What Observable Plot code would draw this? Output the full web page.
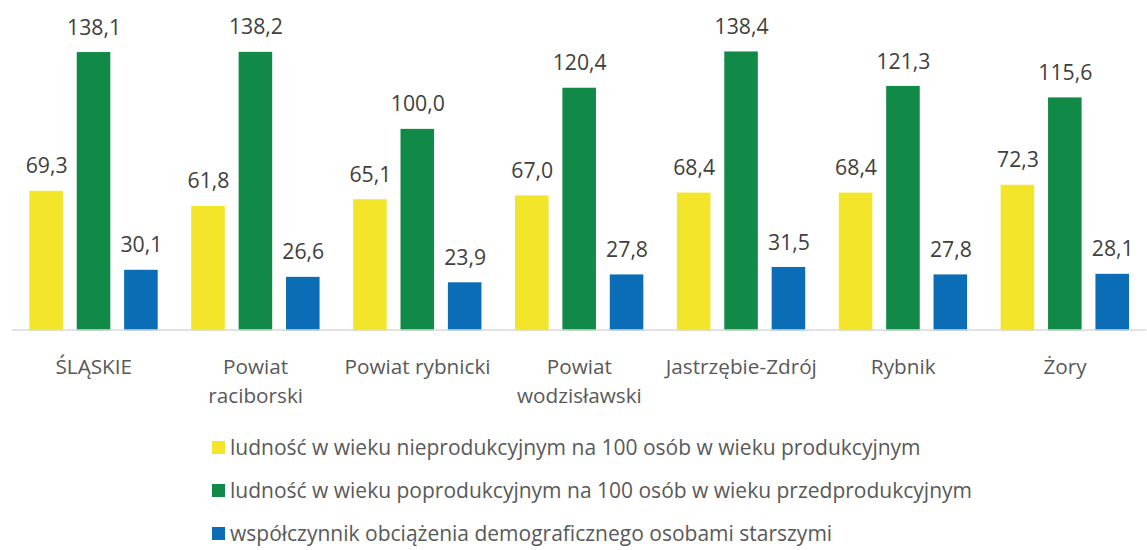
<!DOCTYPE html>
<html>
<head>
<meta charset="utf-8">
<script src="https://cdn.jsdelivr.net/npm/d3@7"></script>
<script src="https://cdn.jsdelivr.net/npm/@observablehq/plot@0.6"></script>
<style>
  body { margin: 0; background: #fff; overflow: hidden; width: 1147px; height: 550px; position: relative; font-family: "Open Sans", sans-serif; }
  #chart { position: absolute; left: 0; top: 0; }
  #legend { position: absolute; left: 212px; top: 426px; font-size: 21px; color: #595959; }
  .row { height: 43px; line-height: 43px; display: flex; align-items: center; white-space: nowrap; }
  .sw { width: 13px; height: 13px; margin-right: 5px; flex: none; }
</style>
</head>
<body>
<div id="chart"></div>
<div id="legend"></div>
<script>
const categories = ["ŚLĄSKIE", "Powiat raciborski", "Powiat rybnicki", "Powiat wodzisławski", "Jastrzębie-Zdrój", "Rybnik", "Żory"];
const categoryLabels = ["ŚLĄSKIE", "Powiat\nraciborski", "Powiat rybnicki", "Powiat\nwodzisławski", "Jastrzębie-Zdrój", "Rybnik", "Żory"];
const seriesNames = [
  "ludność w wieku nieprodukcyjnym na 100 osób w wieku produkcyjnym",
  "ludność w wieku poprodukcyjnym na 100 osób w wieku przedprodukcyjnym",
  "współczynnik obciążenia demograficznego osobami starszymi"
];
const nieprodukcyjny = [69.3, 61.8, 65.1, 67.0, 68.4, 68.4, 72.3];
const poprodukcyjny = [138.1, 138.2, 100.0, 120.4, 138.4, 121.3, 115.6];
const obciazenie = [30.1, 26.6, 23.9, 27.8, 31.5, 27.8, 28.1];
const colors = ["#f3e52a", "#128a47", "#0b6db5"];

const seriesValues = [nieprodukcyjny, poprodukcyjny, obciazenie];
const data = categories.flatMap((c, i) => seriesNames.map((s, j) => ({category: c, series: s, value: seriesValues[j][i]})));
const labelOf = Object.fromEntries(categories.map((c, i) => [c, categoryLabels[i]]));
const fmt = v => d3.format(".1f")(v).replace(".", ",");

const H = 420, base = 334.8;
const chart = Plot.plot({
  width: 1162, height: H,
  marginLeft: 10.25, marginRight: 0, marginTop: 8, marginBottom: H - base,
  style: {fontFamily: "'Open Sans', sans-serif", background: "transparent"},
  fx: {domain: categories, paddingInner: 0.2036, paddingOuter: 0.1018, axis: null, label: null},
  x: {domain: seriesNames, paddingInner: 0.285, paddingOuter: 0, axis: null},
  y: {domain: [0, 160], axis: null},
  color: {domain: seriesNames, range: colors},
  marks: [
    Plot.barY(data, {fx: "category", x: "series", y: "value", fill: "series"}),
    Plot.ruleY([0], {stroke: "#d9d9d9", strokeWidth: 1.5, dy: -1, insetLeft: -16.75, insetRight: -16.75}),
    Plot.text(data, {fx: "category", x: "series", y: "value", text: d => fmt(d.value), lineAnchor: "middle", dy: -25, fontSize: 21.5, fill: "#404040"}),
    Plot.text(categories, {fx: d => d, text: d => labelOf[d], frameAnchor: "bottom", lineAnchor: "top", dy: 23, fontSize: 21, lineHeight: 1.38, fill: "#595959"})
  ]
});
document.getElementById("chart").appendChild(chart);

const legend = document.getElementById("legend");
seriesNames.forEach((s, i) => {
  const row = document.createElement("div");
  row.className = "row";
  const sw = document.createElement("span");
  sw.className = "sw";
  sw.style.background = colors[i];
  const t = document.createElement("span");
  t.textContent = s;
  row.appendChild(sw);
  row.appendChild(t);
  legend.appendChild(row);
});
</script>
</body>
</html>
